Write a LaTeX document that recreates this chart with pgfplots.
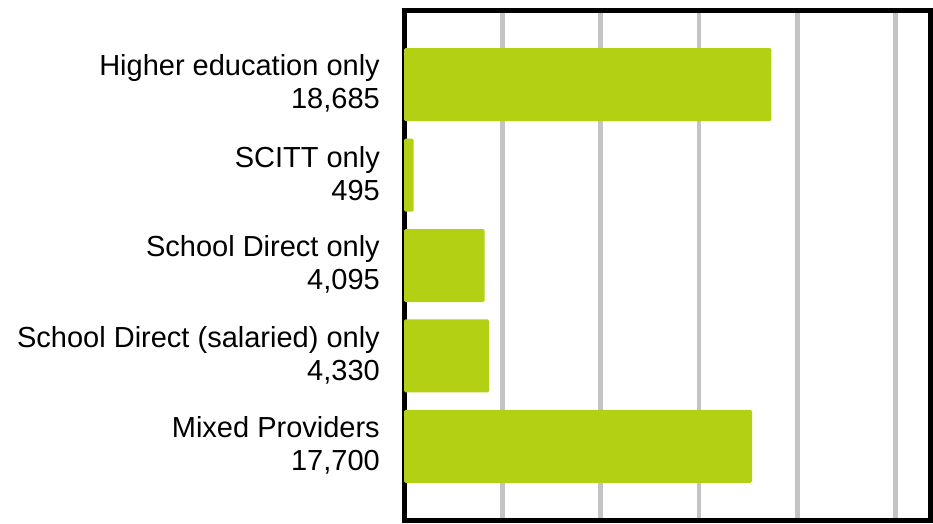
\documentclass[border=0pt]{standalone}
\usepackage{fontspec}
\setmainfont{Liberation Sans}
\usepackage{pgfplots}
\pgfplotsset{compat=1.18}
\definecolor{barg}{HTML}{B3D014}
\definecolor{gridg}{HTML}{C4C4C4}
\begin{document}
\begin{tikzpicture}[x=1pt,y=1pt]
\path[use as bounding box] (0,0) rectangle (933,523);
\begin{axis}[
  at={(404pt,2.5pt)}, anchor=south west,
  scale only axis, width=526pt, height=510pt,
  xmin=0, xmax=26750,
  ymin=-0.82, ymax=4.82, y dir=reverse,
  xtick={5000,10000,15000,20000,25000}, xticklabel=\empty,
  xmajorgrids, major grid style={gridg, line width=4.5pt},
  ytick={0,1,2,3,4},
  yticklabels={{Higher education only\\18,685},{SCITT only\\495},{School Direct only\\4,095},{School Direct (salaried) only\\4,330},{Mixed Providers\\17,700}},
  yticklabel style={align=right, font=\fontsize{29}{33}\selectfont, inner sep=0pt, xshift=-24pt, yshift=1pt},
  major tick length=0pt, tick style={draw=none},
  axis line style={line width=5pt, black},
  xbar, bar width=73pt,
]
\addplot[fill=barg, draw=none, rounded corners=1.5pt] coordinates {(18685,0) (495,1) (4095,2) (4330,3) (17700,4)};
\end{axis}
\end{tikzpicture}
\end{document}
